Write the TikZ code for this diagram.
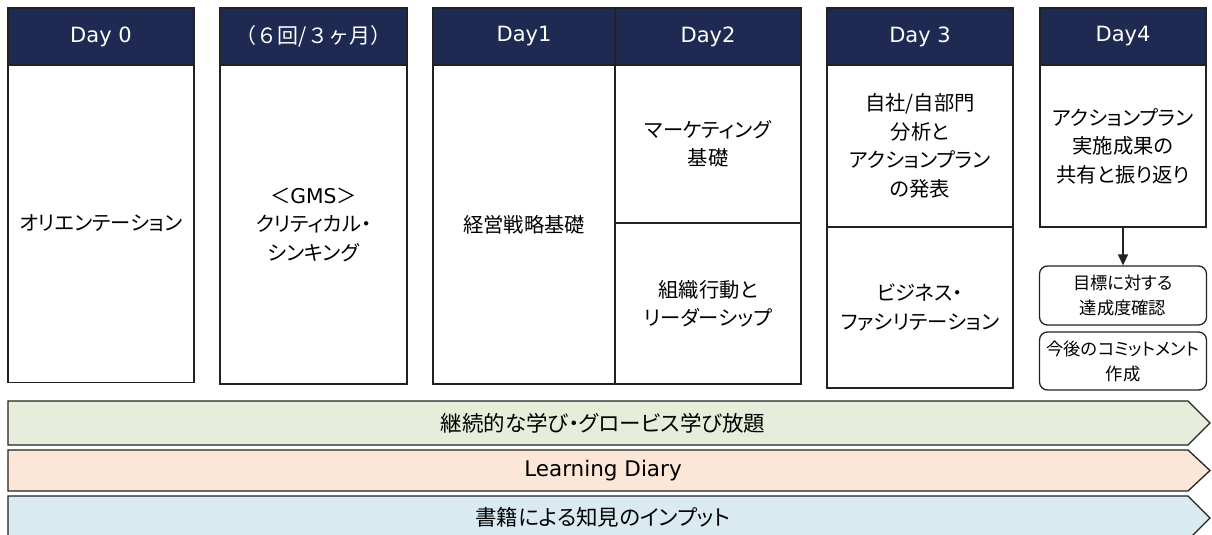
\documentclass[tikz,border=0pt]{standalone}
\usepackage{fontspec}
\setmainfont{Noto Sans CJK JP}[RawFeature=+palt]
\newfontfamily\fullw{Noto Sans CJK JP}
\newfontfamily\latinf{DejaVu Sans}
\usetikzlibrary{arrows.meta}
\definecolor{navy}{HTML}{1E2A52}
\definecolor{bandgreen}{HTML}{E6EDDB}
\definecolor{bandorange}{HTML}{FBE6D7}
\definecolor{bandblue}{HTML}{DAEAF1}
\definecolor{edge}{HTML}{222222}
\tikzset{
  hdr/.style={draw=edge, line width=1.3pt, fill=navy, text=white, inner sep=0pt,
    font=\fontsize{21}{24}\selectfont, minimum height=57pt},
  bodybox/.style={draw=edge, line width=1.3pt, fill=white, inner sep=0pt, align=center,
    font=\fontsize{20.3}{28.5}\selectfont},
  rbox/.style={draw=edge, line width=1.3pt, fill=white, rounded corners=8pt, inner sep=0pt,
    align=center, font=\fontsize{17.3}{25}\selectfont},
  bandpath/.style={draw=edge, line width=1.3pt},
  bandtext/.style={inner sep=0pt, font=\fontsize{21.5}{24}\selectfont},
  arr/.style={draw=edge, line width=1.3pt, -{Triangle[length=11pt,width=10pt]}}
}
\begin{document}
\begin{tikzpicture}[x=1pt,y=-1pt]
\useasboundingbox (0,0) rectangle (1212,535);
\begin{scope}
\clip (0,0) rectangle (1212,535);
% bands
\draw[bandpath, fill=bandgreen] (8,401) -- (1188,401) -- (1210,423) -- (1188,445) -- (8,445) -- cycle;
\node[bandtext] (band1) at (603,423) {継続的な学び・グロービス学び放題};
\draw[bandpath, fill=bandorange] (8,450) -- (1188,450) -- (1210,470.5) -- (1188,491) -- (8,491) -- cycle;
\node[bandtext] (band2) at (603,470.5) {\latinf Learning Diary};
\draw[bandpath, fill=bandblue] (8,496) -- (1188,496) -- (1210,518) -- (1188,540) -- (8,540) -- cycle;
\node[bandtext] (band3) at (603,517) {書籍による知見のインプット};
\end{scope}
% Day 0
\node[bodybox, minimum width=186pt, minimum height=319pt] (b0) at (101,223) {オリエンテーション};
\node[hdr, minimum width=186pt] (h0) at (101,36.5) {\latinf Day 0};
% 6 times / 3 months
\node[bodybox, minimum width=187pt, minimum height=319pt] (b1) at (313.5,224.5) {＜{\latinf GMS}＞\\クリティカル・\\シンキング};
\node[hdr, minimum width=187pt] (h1) at (313.5,36.5) {\fullw （６回/３ヶ月）};
% Day1 / Day2
\node[bodybox, minimum width=182pt, minimum height=319pt] (bd1) at (524,224.5) {経営戦略基礎};
\node[bodybox, minimum width=186pt, minimum height=158pt] (bd2a) at (708,144) {マーケティング\\基礎};
\node[bodybox, minimum width=186pt, minimum height=161pt] (bd2b) at (708,303.5) {組織行動と\\リーダーシップ};
\node[hdr, minimum width=182pt] (hd1) at (524,36.5) {\latinf Day1};
\node[hdr, minimum width=186pt] (hd2) at (708,36.5) {\latinf Day2};
% Day3
\node[bodybox, minimum width=186pt, minimum height=162pt] (bd3a) at (920,146) {自社/自部門\\分析と\\アクションプラン\\の発表};
\node[bodybox, minimum width=186pt, minimum height=161pt] (bd3b) at (920,307.5) {ビジネス・\\ファシリテーション};
\node[hdr, minimum width=186pt] (hd3) at (920,36.5) {\latinf Day 3};
% Day4
\node[bodybox, minimum width=166pt, minimum height=162pt] (bd4) at (1123,146) {アクションプラン\\実施成果の\\共有と振り返り};
\node[hdr, minimum width=166pt] (hd4) at (1123,36.5) {\latinf Day4};
\node[rbox, minimum width=167pt, minimum height=59pt] (r1) at (1123,295.5) {目標に対する\\達成度確認};
\node[rbox, minimum width=167pt, minimum height=58pt] (r2) at (1123,361) {今後のコミットメント\\作成};
\draw[arr] (bd4.south) -- (r1.north);
\end{tikzpicture}
\end{document}
